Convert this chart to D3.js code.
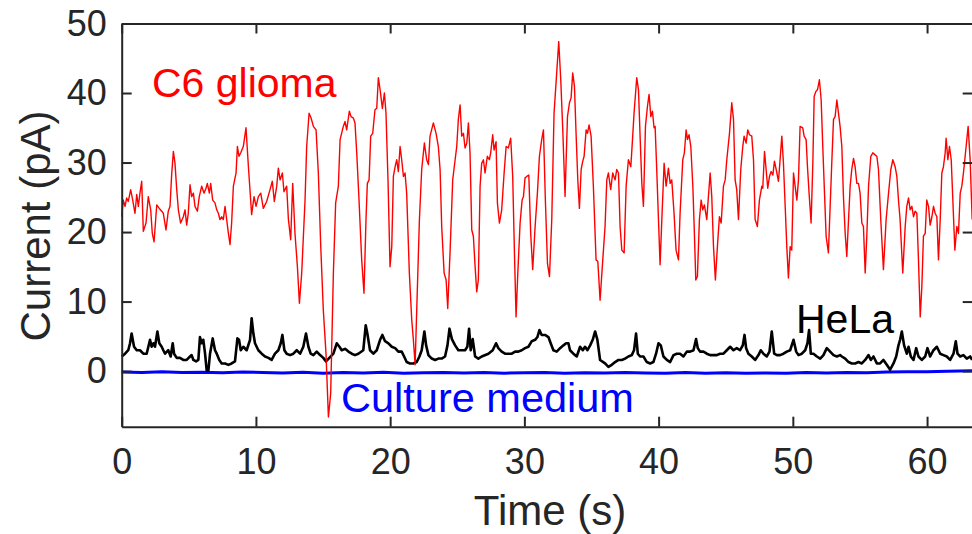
<!DOCTYPE html>
<html>
<head>
<meta charset="utf-8">
<script src="https://cdn.jsdelivr.net/npm/d3@7"></script>
<style>
  body { margin: 0; background: #fff; }
  svg { display: block; }
  text { font-family: "Liberation Sans", Arial, Helvetica, sans-serif; }
</style>
</head>
<body>
<svg id="chart" width="972" height="534"></svg>
<script>
// C6 glioma recording: time (s) and current (pA)
const c6Time = [0.00,0.12,0.25,0.37,0.49,0.67,0.82,0.99,1.12,1.24,1.36,1.49,1.61,1.81,1.98,2.16,2.28,2.41,2.61,2.80,2.98,3.10,3.30,3.47,3.60,3.72,3.85,3.97,4.10,4.22,4.39,4.59,4.72,4.84,4.96,5.09,5.21,5.34,5.46,5.64,5.78,5.96,6.13,6.28,6.38,6.53,6.63,6.78,6.95,7.08,7.20,7.32,7.45,7.57,7.70,7.82,7.95,8.07,8.19,8.32,8.52,8.62,8.74,8.87,9.06,9.26,9.44,9.68,9.86,10.01,10.18,10.36,10.55,10.80,11.05,11.22,11.37,11.55,11.67,11.80,11.97,12.09,12.29,12.42,12.59,12.74,12.91,13.09,13.24,13.41,13.66,13.78,13.96,14.11,14.28,14.48,14.65,14.83,15.02,15.22,15.40,15.57,15.77,15.94,16.14,16.27,16.51,16.64,16.76,16.96,17.09,17.26,17.38,17.51,17.68,17.88,18.05,18.20,18.30,18.43,18.55,18.70,18.87,19.00,19.12,19.25,19.42,19.57,19.69,19.84,19.99,20.12,20.24,20.37,20.49,20.61,20.74,20.86,20.99,21.11,21.23,21.43,21.61,21.73,21.86,21.98,22.18,22.35,22.55,22.72,22.85,22.97,23.22,23.42,23.59,23.72,23.84,24.02,24.17,24.29,24.46,24.66,24.84,24.96,25.08,25.21,25.33,25.46,25.58,25.71,25.83,25.95,26.08,26.20,26.33,26.45,26.57,26.70,26.82,26.95,27.07,27.24,27.39,27.49,27.64,27.74,27.89,27.99,28.14,28.31,28.49,28.64,28.81,28.98,29.13,29.26,29.38,29.51,29.68,29.83,29.93,30.05,30.18,30.33,30.47,30.62,30.80,30.97,31.12,31.29,31.42,31.57,31.72,31.87,32.04,32.21,32.36,32.56,32.71,32.86,33.03,33.21,33.36,33.48,33.60,33.73,33.85,33.98,34.10,34.23,34.35,34.45,34.60,34.70,34.82,34.97,35.14,35.34,35.47,35.64,35.84,36.01,36.14,36.26,36.43,36.58,36.76,36.88,37.01,37.13,37.26,37.43,37.58,37.75,37.93,38.07,38.17,38.37,38.50,38.62,38.75,38.87,39.02,39.17,39.29,39.42,39.54,39.66,39.74,39.86,39.99,40.11,40.24,40.41,40.56,40.73,40.86,40.98,41.15,41.30,41.48,41.60,41.80,41.92,42.05,42.15,42.27,42.40,42.55,42.65,42.77,42.89,43.04,43.17,43.29,43.41,43.59,43.71,43.84,43.96,44.09,44.23,44.38,44.53,44.66,44.83,44.96,45.08,45.28,45.45,45.58,45.70,45.82,45.95,46.12,46.27,46.37,46.52,46.64,46.77,46.94,47.07,47.19,47.36,47.51,47.69,47.76,47.89,48.01,48.13,48.26,48.38,48.51,48.63,48.76,48.93,49.05,49.18,49.30,49.43,49.55,49.67,49.80,49.92,50.05,50.17,50.30,50.42,50.54,50.74,50.84,50.99,51.09,51.21,51.36,51.49,51.59,51.71,51.84,51.98,52.11,52.23,52.36,52.48,52.65,52.78,52.90,53.03,53.15,53.28,53.40,53.52,53.65,53.77,53.90,54.02,54.15,54.27,54.39,54.52,54.64,54.77,54.89,55.01,55.14,55.26,55.39,55.51,55.64,55.81,55.96,56.13,56.26,56.38,56.55,56.75,56.95,57.13,57.30,57.45,57.62,57.75,57.87,57.99,58.19,58.37,58.49,58.62,58.74,58.87,58.99,59.11,59.24,59.36,59.49,59.61,59.73,59.86,59.98,60.11,60.23,60.36,60.48,60.60,60.73,60.85,60.98,61.10,61.22,61.35,61.42,61.55,61.67,61.80,61.92,62.07,62.22,62.34,62.47,62.59,62.71,62.91,63.06,63.21,63.36];
const c6Current = [22.2,24.6,23.7,24.9,24.4,26.1,24.6,22.7,25.4,23.7,25.6,27.3,20.1,21.3,25.1,23.2,19.8,18.6,23.9,23.4,23.0,22.7,20.3,23.0,23.7,28.2,31.6,29.9,26.1,23.2,21.3,22.2,23.2,21.0,22.7,26.8,25.1,25.6,23.7,23.0,25.1,26.6,25.6,26.3,27.0,25.6,27.0,24.6,24.2,23.2,22.7,21.8,22.2,21.8,23.7,21.8,19.8,18.2,21.3,26.6,28.5,32.3,30.9,31.4,32.3,35.0,29.4,22.5,25.1,23.7,25.1,25.6,23.4,24.4,26.1,27.3,24.4,26.6,29.2,27.5,28.5,25.8,26.6,21.8,18.9,27.0,19.8,15.0,9.75,14.1,24.6,32.3,37.1,36.4,35.2,34.7,28.5,17.9,8.8,2.55,-6.6,-3.2,14.1,24.2,26.6,33.3,35.2,35.9,34.7,37.4,36.6,36.4,35.7,31.4,24.6,16.0,11.2,21.8,27.0,27.5,33.8,34.2,37.6,37.8,42.2,40.5,37.8,40.0,37.1,27.5,15.0,17.9,28.0,29.4,30.4,28.7,32.3,30.4,28.0,28.5,25.6,14.1,7.3,4.5,0.9,8.8,21.8,29.0,32.8,30.4,29.7,33.8,35.7,34.2,32.3,29.0,20.8,14.1,13.1,9.0,17.0,27.5,30.4,32.3,36.2,38.3,33.8,34.2,32.1,32.8,35.7,31.4,20.3,19.4,15.0,11.4,13.1,26.6,29.9,30.4,28.5,30.9,30.4,31.4,34.0,31.8,33.0,24.2,21.3,23.2,28.5,32.3,32.1,33.5,28.0,17.0,7.8,14.1,21.3,24.6,25.1,27.8,28.0,28.2,19.8,14.6,20.8,25.6,30.9,33.3,34.7,24.2,15.5,13.6,21.8,37.1,41.5,47.4,41.9,34.7,25.1,36.6,38.6,39.3,42.9,41.0,34.2,27.5,23.4,29.0,30.2,30.9,34.7,34.2,35.4,33.8,26.6,16.0,15.8,10.2,16.0,20.8,27.5,28.5,26.1,28.5,27.5,29.0,28.5,20.8,17.4,17.0,26.6,30.4,29.4,33.8,37.1,42.2,40.5,33.8,27.0,23.7,35.2,38.1,39.8,36.6,37.4,35.0,35.2,29.0,21.8,15.3,21.8,29.9,26.6,29.2,27.0,27.5,22.7,17.4,16.0,22.7,30.4,31.4,34.7,33.3,34.0,32.3,26.6,20.8,13.1,13.6,21.8,24.6,23.2,23.9,21.8,25.1,28.5,25.1,17.9,13.1,17.9,22.2,21.3,26.6,27.5,30.4,34.2,38.6,36.2,27.5,26.1,21.8,29.0,32.3,33.8,32.8,34.7,34.0,33.8,30.4,21.8,20.8,24.6,26.6,26.3,31.6,29.0,26.3,28.0,28.7,28.2,30.2,29.0,27.3,30.4,33.8,29.9,23.7,17.9,13.4,17.9,17.4,28.5,26.6,24.6,27.5,35.2,35.0,33.8,33.3,29.4,25.6,21.3,29.9,39.5,40.2,40.5,41.9,39.0,32.3,25.6,19.4,17.0,23.7,29.9,36.2,36.6,39.0,37.1,35.2,32.3,25.1,19.8,16.5,21.8,26.6,29.0,30.6,29.4,27.0,27.0,25.6,21.3,20.8,14.1,19.4,26.6,30.9,31.4,31.1,30.9,29.0,21.8,14.6,21.8,25.6,29.0,30.4,29.4,28.0,24.6,21.8,14.1,20.8,23.7,24.9,23.2,23.7,22.2,23.0,22.7,16.0,7.8,12.1,19.4,19.8,24.6,23.7,21.0,22.2,23.7,22.7,22.2,16.0,21.8,28.5,29.4,31.4,33.5,30.4,32.3,30.4,24.6,17.4,20.8,19.8,25.6,26.6,28.5,32.3,35.2,30.4,21.8];

// HeLa recording
const helaTime = [0.00,0.25,0.49,0.62,0.74,0.92,1.12,1.36,1.61,1.86,2.11,2.23,2.36,2.48,2.66,2.80,2.98,3.10,3.23,3.47,3.65,3.80,3.90,4.10,4.34,4.59,4.84,5.09,5.21,5.34,5.54,5.71,5.83,5.96,6.08,6.21,6.33,6.46,6.58,6.78,6.95,7.08,7.27,7.45,7.70,7.95,8.19,8.44,8.62,8.74,8.87,9.06,9.31,9.56,9.68,9.81,9.93,10.18,10.43,10.68,10.93,11.17,11.42,11.67,11.85,11.97,12.12,12.29,12.54,12.79,13.04,13.29,13.53,13.73,13.91,14.08,14.28,14.53,14.78,15.02,15.22,15.47,15.77,16.02,16.22,16.39,16.64,16.89,17.14,17.38,17.63,18.00,18.18,18.30,18.50,18.75,19.00,19.25,19.42,19.62,19.87,20.12,20.37,20.61,20.86,21.04,21.23,21.48,21.73,21.98,22.18,22.35,22.55,22.68,22.85,23.10,23.35,23.59,23.84,24.09,24.27,24.42,24.60,24.84,25.08,25.33,25.58,25.75,25.88,26.00,26.15,26.33,26.57,26.82,27.32,27.64,27.89,28.06,28.31,28.56,28.81,29.06,29.31,29.55,29.80,30.05,30.30,30.55,30.80,30.97,31.12,31.29,31.54,31.79,31.96,32.16,32.41,32.66,32.91,33.11,33.28,33.40,33.65,33.90,34.15,34.35,34.52,34.70,34.90,35.09,35.27,35.44,35.64,36.01,36.26,36.51,36.76,37.01,37.26,37.50,37.75,38.00,38.17,38.32,38.45,38.62,38.87,39.12,39.37,39.61,39.81,39.99,40.16,40.36,40.61,40.86,41.11,41.35,41.60,41.85,42.10,42.35,42.60,42.79,42.92,43.09,43.34,43.59,43.84,44.09,44.33,44.58,44.83,45.08,45.33,45.58,45.82,46.07,46.27,46.40,46.52,46.69,46.94,47.19,47.44,47.61,47.81,48.06,48.26,48.43,48.61,48.81,49.05,49.30,49.55,49.80,50.05,50.25,50.42,50.67,50.92,51.09,51.21,51.34,51.54,51.79,52.04,52.28,52.53,52.78,53.03,53.28,53.52,53.65,53.90,54.15,54.39,54.64,54.89,55.14,55.39,55.64,55.81,56.01,56.26,56.50,56.75,57.00,57.25,57.50,57.70,57.87,57.99,58.12,58.29,58.49,58.62,58.79,58.99,59.19,59.36,59.61,59.86,60.03,60.23,60.48,60.73,60.98,61.22,61.47,61.72,61.97,62.14,62.27,62.47,62.71,62.96,63.21,63.36];
const helaCurrent = [2.1,2.5,3.0,4.0,5.4,3.5,3.0,3.0,2.5,2.5,4.5,3.5,4.0,3.5,5.7,4.0,3.5,3.0,2.5,3.0,2.1,4.0,2.5,1.9,1.9,1.6,1.6,2.1,2.3,1.6,1.4,1.6,4.9,4.0,4.5,2.5,0.1,0.1,2.5,4.7,3.0,2.5,1.6,1.1,1.1,0.9,1.1,1.4,4.7,4.5,3.0,3.5,3.0,4.5,7.6,5.4,4.0,3.0,2.5,2.1,1.9,1.6,2.5,3.0,4.0,5.2,3.0,2.5,2.3,2.5,3.0,2.5,3.5,5.4,3.5,2.5,2.3,2.8,2.3,1.9,1.4,1.9,2.5,4.0,3.5,3.0,3.2,2.8,2.5,2.3,2.5,3.0,6.6,5.4,3.0,2.5,3.0,4.5,5.2,4.3,4.0,3.5,3.3,2.8,2.8,2.1,1.3,1.1,1.1,1.3,2.1,3.0,5.7,3.7,2.3,1.8,1.6,1.8,1.8,2.1,3.7,6.1,4.6,3.7,3.0,3.0,3.0,3.5,6.1,3.0,4.6,2.1,1.8,2.1,2.5,3.0,4.0,3.3,2.8,2.5,2.5,2.5,2.8,2.8,3.0,3.3,3.5,4.3,4.5,4.9,5.9,5.2,5.2,4.9,4.0,3.0,2.8,3.3,3.7,4.0,4.0,3.0,2.5,2.1,3.5,3.0,3.5,3.0,3.7,4.5,5.7,4.5,1.6,1.1,0.6,0.9,1.3,1.6,1.6,1.8,2.1,2.3,3.0,5.4,2.5,2.1,2.1,1.3,1.1,1.3,2.5,4.0,3.7,2.1,1.6,1.3,2.3,2.5,2.5,2.1,2.8,2.8,3.0,4.6,3.3,2.8,2.8,2.5,2.3,2.3,2.3,2.5,2.5,3.0,3.5,3.0,3.3,3.0,3.7,5.2,3.3,2.5,2.1,1.6,2.3,3.0,2.5,2.1,2.8,5.7,2.5,2.3,2.3,2.5,2.8,3.0,4.5,2.8,2.3,2.5,3.0,4.0,5.9,2.5,2.5,2.1,1.8,2.3,3.3,2.8,2.3,2.1,2.3,2.1,1.8,1.3,1.1,1.1,1.3,1.1,1.6,2.3,1.6,2.1,1.1,1.1,1.6,0.9,0.2,1.1,2.1,3.7,4.5,5.7,3.7,2.5,3.5,2.1,1.6,3.3,2.1,1.6,2.1,3.3,2.1,3.0,3.5,2.5,2.3,2.1,1.6,2.5,4.3,2.5,2.1,2.3,1.8,2.1,1.6];

// Culture medium (no cells)
const mediumTime = [0,1.5,3,4.5,6,7.5,9,10.5,12,13.5,15,16.5,18,19.5,21,22.5,24,25.5,27,28.5,30,31.5,33,34.5,36,37.5,39,40.5,42,43.5,45,46.5,48,49.5,51,52.5,54,55.5,57,58.5,60,61.5,63.4];
const mediumCurrent = [-0.12,-0.2,-0.1,-0.22,-0.15,-0.25,-0.12,-0.2,-0.28,-0.18,-0.3,-0.22,-0.26,-0.18,-0.3,-0.24,-0.2,-0.28,-0.22,-0.3,-0.25,-0.2,-0.3,-0.24,-0.28,-0.2,-0.26,-0.3,-0.22,-0.3,-0.25,-0.32,-0.26,-0.3,-0.22,-0.28,-0.2,-0.24,-0.12,-0.08,-0.1,-0.02,0.05];

const xTicks = [0, 10, 20, 30, 40, 50, 60];
const yTicks = [0, 10, 20, 30, 40, 50];
const xDomain = [0, 63.4];
const yDomain = [-8, 50];

const axisColor = "#262626";
const svg = d3.select("#chart");

const plot = { left: 121.7, right: 972.7, top: 23.5, bottom: 426.7 };
const x = d3.scaleLinear().domain(xDomain).range([plot.left, plot.right]);
const y = d3.scaleLinear().domain(yDomain).range([plot.bottom, plot.top]);

const line = d3.line().x(d => x(d[0])).y(d => y(d[1]));
const pairs = (t, v) => t.map((ti, i) => [ti, v[i]]);

// Traces: medium, HeLa, then C6 on top
svg.append("path").datum(pairs(mediumTime, mediumCurrent))
  .attr("d", line).attr("fill", "none").attr("stroke", "#0000ff")
  .attr("stroke-width", 3).attr("stroke-linejoin", "round");
svg.append("path").datum(pairs(helaTime, helaCurrent))
  .attr("d", line).attr("fill", "none").attr("stroke", "#000000")
  .attr("stroke-width", 2.6).attr("stroke-linejoin", "round");
svg.append("path").datum(pairs(c6Time, c6Current))
  .attr("d", line).attr("fill", "none").attr("stroke", "#ff0000")
  .attr("stroke-width", 1.4).attr("stroke-linejoin", "round");

// Box axes with inward ticks
function styleAxis(g) {
  g.selectAll(".domain").attr("stroke", axisColor).attr("stroke-width", 2);
  g.selectAll(".tick line").attr("stroke", axisColor).attr("stroke-width", 2);
  g.selectAll(".tick text").attr("fill", axisColor)
    .style("font-size", "36px").style("font-family", '"Liberation Sans", Arial, Helvetica, sans-serif');
}

svg.append("g").attr("transform", `translate(0,${plot.bottom})`)
  .call(d3.axisBottom(x).tickValues(xTicks).tickSize(-10).tickSizeOuter(0).tickPadding(22))
  .call(styleAxis);
svg.append("g").attr("transform", `translate(0,${plot.top})`)
  .call(d3.axisTop(x).tickValues(xTicks).tickSize(-10).tickSizeOuter(0).tickFormat(""))
  .call(styleAxis);
svg.append("g").attr("transform", `translate(${plot.left},0)`)
  .call(d3.axisLeft(y).tickValues(yTicks).tickSize(-10).tickSizeOuter(0).tickPadding(15))
  .call(styleAxis);
svg.append("g").attr("transform", `translate(${plot.right},0)`)
  .call(d3.axisRight(y).tickValues(yTicks).tickSize(-10).tickSizeOuter(0).tickFormat(""))
  .call(styleAxis);

// Axis titles
svg.append("text").attr("x", 550).attr("y", 525)
  .attr("text-anchor", "middle").attr("fill", axisColor)
  .style("font-size", "42px").text("Time (s)");
svg.append("text").attr("transform", "translate(50,226) rotate(-90)")
  .attr("text-anchor", "middle").attr("fill", axisColor)
  .style("font-size", "42px").text("Current (pA)");

// Trace labels
svg.append("text").attr("x", 152).attr("y", 97).attr("fill", "#ff0000")
  .style("font-size", "41px").text("C6 glioma");
svg.append("text").attr("x", 796).attr("y", 333).attr("fill", "#000000")
  .style("font-size", "41px").text("HeLa");
svg.append("text").attr("x", 341).attr("y", 412).attr("fill", "#0000ff")
  .style("font-size", "41.5px").text("Culture medium");
</script>
</body>
</html>
